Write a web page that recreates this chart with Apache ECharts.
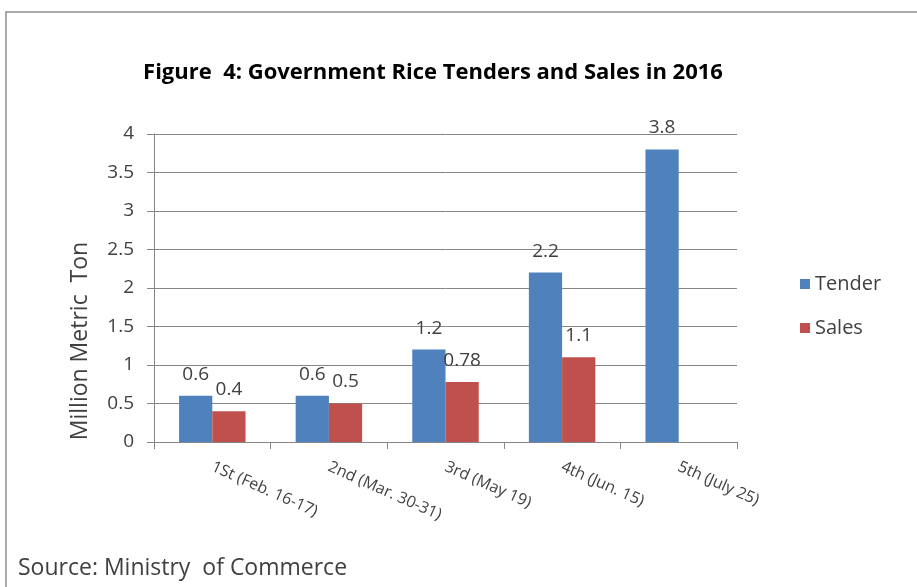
<!DOCTYPE html>
<html><head><meta charset="utf-8">
<script src="https://cdn.jsdelivr.net/npm/echarts@6/dist/echarts.min.js"></script>
<style>html,body{margin:0;padding:0;background:#fff}#c{width:917px;height:587px}</style>
</head><body><div id="c"></div>
<script>
const categories = ["1St (Feb. 16-17)", "2nd (Mar. 30-31)", "3rd (May 19)", "4th (Jun. 15)", "5th (July 25)"];
const tender = [0.6, 0.6, 1.2, 2.2, 3.8];
const sales = [0.4, 0.5, 0.78, 1.1, null];
const yTicks = [0, 0.5, 1, 1.5, 2, 2.5, 3, 3.5, 4];

const FONT = '"Open Sans", Lato, sans-serif';
const chart = echarts.init(document.getElementById('c'));
const lbl = {show: true, position: 'top', fontFamily: FONT, fontSize: 19, color: '#404040', distance: 12};
chart.setOption({
  animation: false,
  textStyle: {fontFamily: FONT},
  title: {
    text: 'Figure  4: Government Rice Tenders and Sales in 2016',
    left: 428, top: 57, textAlign: 'center',
    textStyle: {fontFamily: FONT, fontSize: 22, fontWeight: 'bold', color: '#000'}
  },
  graphic: [
    {type: 'rect', shape: {x: 6, y: 12, width: 930, height: 600}, style: {fill: 'none', stroke: '#8c8c8c', lineWidth: 1.5}},
    {type: 'text', x: 80, y: 341, rotation: Math.PI / 2,
     style: {text: 'Million Metric  Ton', font: '23px ' + FONT, fill: '#404040', textAlign: 'center', textVerticalAlign: 'middle'}},
    {type: 'text', x: 18, y: 568,
     style: {text: 'Source: Ministry  of Commerce', font: '23px ' + FONT, fill: '#404040', textAlign: 'left', textVerticalAlign: 'middle'}}
  ],
  legend: {
    orient: 'vertical', left: 795, top: 269, itemGap: 24, itemWidth: 10, itemHeight: 10,
    icon: 'rect',
    textStyle: {fontFamily: FONT, fontSize: 20, color: '#404040'},
    data: ['Tender', 'Sales']
  },
  grid: {left: 154, right: 180, top: 134, bottom: 145, containLabel: false},
  xAxis: {
    type: 'category', data: categories,
    axisLine: {lineStyle: {color: '#868686'}},
    axisTick: {show: true, length: 7, lineStyle: {color: '#868686'}},
    axisLabel: {rotate: -24, fontFamily: FONT, fontSize: 16, color: '#404040', margin: 24}
  },
  yAxis: {
    type: 'value', min: 0, max: 4, interval: 0.5,
    axisLine: {show: true, lineStyle: {color: '#868686'}},
    axisTick: {show: true, length: 7, lineStyle: {color: '#868686'}},
    axisLabel: {fontFamily: FONT, fontSize: 19, color: '#404040', margin: 20,
      formatter: v => yTicks.includes(v) ? String(v) : ''},
    splitLine: {lineStyle: {color: '#868686'}}
  },
  series: [
    {name: 'Tender', type: 'bar', data: tender, barGap: '0%', barCategoryGap: '43%',
     itemStyle: {color: '#4F81BD'}, label: lbl},
    {name: 'Sales', type: 'bar', data: sales,
     itemStyle: {color: '#C0504D'}, label: lbl}
  ]
});
</script></body></html>
